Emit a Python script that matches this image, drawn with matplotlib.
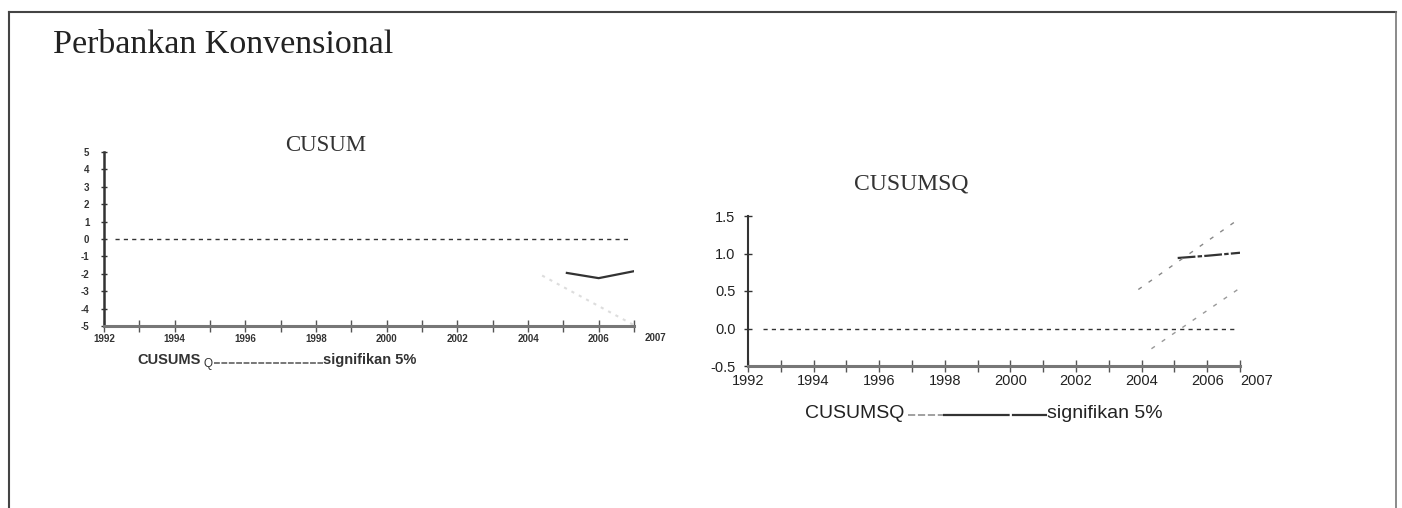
import matplotlib
matplotlib.use("Agg")
import matplotlib.pyplot as plt
from matplotlib.lines import Line2D

# ---- data ----
years = list(range(1992, 2008))
cusum_years = [2005.1, 2006, 2007]
cusum_vals = [-1.95, -2.25, -1.85]
cusum_sig_years = [2004.4, 2007]
cusum_sig_vals = [-2.1, -4.95]
cusumsq_years = [2005.1, 2006, 2007]
cusumsq_vals = [0.94, 0.97, 1.01]
sq_upper_years = [2003.9, 2007]
sq_upper_vals = [0.52, 1.47]
sq_lower_years = [2004.3, 2007]
sq_lower_vals = [-0.27, 0.54]
left_yticks = [-5, -4, -3, -2, -1, 0, 1, 2, 3, 4, 5]
right_yticks = [-0.5, 0.0, 0.5, 1.0, 1.5]
xlabel_years = [1992, 1994, 1996, 1998, 2000, 2002, 2004, 2006, 2007]

W, H = 1402, 508
fig = plt.figure(figsize=(W / 100, H / 100), dpi=100)
fig.patch.set_facecolor("white")

# outer frame
fig.add_artist(Line2D([9 / W, 1396 / W], [1 - 12 / H, 1 - 12 / H], color="#444444", lw=1.5))
fig.add_artist(Line2D([9 / W, 9 / W], [0, 1 - 12 / H], color="#444444", lw=1.5))
fig.add_artist(Line2D([1396 / W, 1396 / W], [0, 1 - 12 / H], color="#777777", lw=1.2))

fig.text(53 / W, 1 - 45 / H, "Perbankan Konvensional", family="Liberation Serif",
         fontsize=24.5, color="#222222", va="center", ha="left")

def xlab(y):
    return str(y) if y in xlabel_years else ""

# ---- left panel: CUSUM ----
ax1 = fig.add_axes([104 / W, 1 - 326 / H, 530 / W, 174 / H])
ax1.plot(cusum_years, cusum_vals, color="#333333", lw=1.6)
ax1.plot(cusum_sig_years, cusum_sig_vals, color="#dddddd", lw=1.5, ls=(0, (1.5, 2.5)))
ax1.axhline(0, color="#333333", lw=1, ls=(0, (3, 3)), xmin=0.02, xmax=0.99)
ax1.set_xlim(1992, 2007)
ax1.set_ylim(-5, 5)
ax1.set_xticks(years)
ax1.set_xticklabels([xlab(y) if y != years[-1] else "" for y in years], fontsize=7,
                    fontweight="bold", family="Liberation Sans", color="#333333")
ax1.annotate(str(years[-1]), xy=(years[-1], 0), xycoords=("data", "axes fraction"),
             xytext=(8, -5), textcoords="offset points", ha="left", va="top",
             fontsize=7, fontweight="bold", family="Liberation Sans", color="#333333")
ax1.set_yticks(left_yticks)
ax1.set_yticklabels([str(v) for v in left_yticks], fontsize=7, fontweight="bold",
                    family="Liberation Sans", color="#333333")
for s in ["top", "right"]:
    ax1.spines[s].set_visible(False)
ax1.spines["left"].set_color("#333333")
ax1.spines["left"].set_linewidth(1.8)
ax1.spines["bottom"].set_color("#777777")
ax1.spines["bottom"].set_linewidth(2.2)
ax1.tick_params(axis="x", direction="inout", length=8, width=1, color="#555555", pad=2)
ax1.tick_params(axis="y", direction="inout", length=5, width=1, color="#333333", pad=8)
ax1.set_facecolor("none")
fig.text(326 / W, 1 - 146 / H, "CUSUM", family="Liberation Serif", fontsize=16.5,
         color="#333333", ha="center", va="center")

# left legend
fig.text(137 / W, 1 - 360 / H, "CUSUMS", family="Liberation Sans", fontsize=10.5,
         fontweight="bold", color="#333333", ha="left", va="center")
fig.text(203 / W, 1 - 364 / H, "Q", family="Liberation Sans", fontsize=8.5,
         color="#333333", ha="left", va="center")
fig.add_artist(Line2D([214 / W, 323 / W], [1 - 363 / H, 1 - 363 / H], color="#777777", lw=1.4,
                      ls=(0, (3, 0.8))))
fig.text(323 / W, 1 - 360 / H, "signifikan 5%", family="Liberation Sans", fontsize=10.5,
         fontweight="bold", color="#333333", ha="left", va="center")

# ---- right panel: CUSUMSQ ----
ax2 = fig.add_axes([748 / W, 1 - 366 / H, 492 / W, 150 / H])
ax2.plot(cusumsq_years, cusumsq_vals, color="#333333", lw=1.6, ls=(0, (8, 1, 2, 1)))
ax2.plot(sq_upper_years, sq_upper_vals, color="#888888", lw=1, ls=(0, (3, 6)))
ax2.plot(sq_lower_years, sq_lower_vals, color="#999999", lw=1, ls=(0, (3, 6)))
ax2.axhline(0, color="#333333", lw=1, ls=(0, (3, 3)), xmin=0.03, xmax=0.99)
ax2.set_xlim(1992, 2007)
ax2.set_ylim(-0.5, 1.5)
ax2.set_xticks(years)
ax2.set_xticklabels([xlab(y) for y in years], fontsize=10.5,
                    family="Liberation Sans", color="#222222")
ax2.get_xticklabels()[-1].set_ha("left")
ax2.set_yticks(right_yticks)
ax2.set_yticklabels([f"{v:.1f}" for v in right_yticks], fontsize=10.5,
                    family="Liberation Sans", color="#222222")
for s in ["top", "right"]:
    ax2.spines[s].set_visible(False)
ax2.spines["left"].set_color("#333333")
ax2.spines["left"].set_linewidth(1.5)
ax2.spines["bottom"].set_color("#777777")
ax2.spines["bottom"].set_linewidth(2.2)
ax2.tick_params(axis="x", direction="inout", length=8, width=1, color="#555555", pad=2)
ax2.tick_params(axis="y", direction="inout", length=6, width=1, color="#333333", pad=6)
ax2.set_facecolor("none")
fig.text(911 / W, 1 - 184 / H, "CUSUMSQ", family="Liberation Serif", fontsize=17,
         color="#333333", ha="center", va="center")

# right legend
fig.text(805 / W, 1 - 413 / H, "CUSUMSQ", family="Liberation Sans", fontsize=14,
         color="#222222", ha="left", va="center")
fig.add_artist(Line2D([908 / W, 943 / W], [1 - 415 / H, 1 - 415 / H], color="#999999", lw=1.3,
                      ls=(0, (4, 1.5))))
fig.add_artist(Line2D([943 / W, 1047 / W], [1 - 415 / H, 1 - 415 / H], color="#333333", lw=1.6,
                      ls=(0, (30, 1))))
fig.text(1047 / W, 1 - 413 / H, "signifikan 5%", family="Liberation Sans", fontsize=14,
         color="#222222", ha="left", va="center")

fig.savefig("out.png", dpi=100, facecolor="white")
